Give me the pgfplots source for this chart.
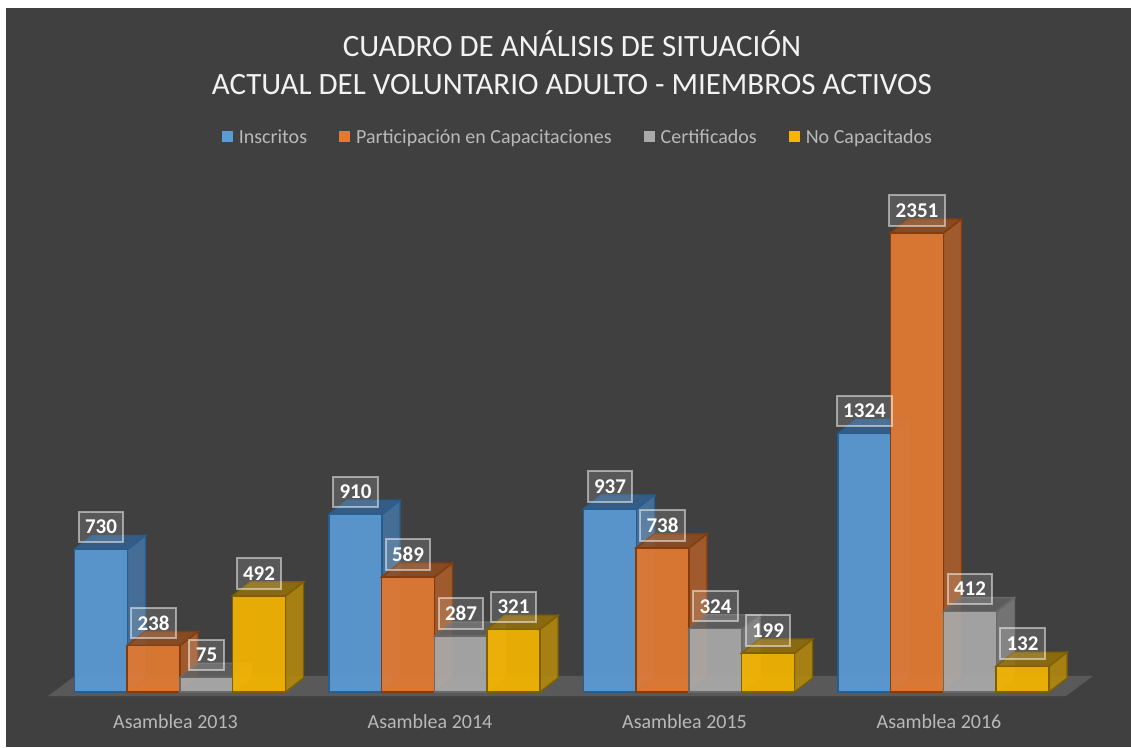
\documentclass[border=0pt]{standalone}
\usepackage{pgfplots}
\usepackage{pgfplotstable}
\usepackage{fontspec}
\setmainfont{Carlito}
\pgfplotsset{compat=1.18}

\definecolor{bgdark}{RGB}{64,64,64}
\definecolor{floorc}{RGB}{89,89,89}
\definecolor{txtgray}{RGB}{185,185,185}
\definecolor{bluef}{RGB}{91,155,213}
\definecolor{bluel}{RGB}{37,94,145}
\definecolor{blues}{RGB}{70,118,165}
\definecolor{bluet}{RGB}{50,98,145}
\definecolor{orangef}{RGB}{228,122,50}
\definecolor{orangel}{RGB}{132,60,12}
\definecolor{oranges}{RGB}{176,96,42}
\definecolor{oranget}{RGB}{146,78,32}
\definecolor{grayf}{RGB}{170,170,170}
\definecolor{grayl}{RGB}{105,105,105}
\definecolor{grays}{RGB}{125,125,125}
\definecolor{grayt}{RGB}{98,98,98}
\definecolor{yellowf}{RGB}{245,182,0}
\definecolor{yellowl}{RGB}{127,96,0}
\definecolor{yellows}{RGB}{184,140,10}
\definecolor{yellowt}{RGB}{150,114,8}

% x = group + offset, y = value
\pgfplotstableread{
x y
-0.3104 730
0.6896 910
1.6896 937
2.6896 1324
}\inscritos
\pgfplotstableread{
x y
-0.1041 238
0.8959 589
1.8959 738
2.8959 2351
}\participacion
\pgfplotstableread{
x y
0.1041 75
1.1041 287
2.1041 324
3.1041 412
}\certificados
\pgfplotstableread{
x y
0.3104 492
1.3104 321
2.3104 199
3.3104 132
}\nocapacitados

\pgfplotsset{
  % one 3d bar per data point: side, top, front (fill colours, then line colour)
  bar3d/.style n args={4}{
    only marks, forget plot, scatter, mark=*, mark size=0pt,
    mark options={draw=none,fill=none},
    visualization depends on={rawy \as \rawv},
    scatter/@pre marker code/.code={%
      \pgfmathsetmacro\barh{\rawv*0.19524}%
      \path[fill=#1,fill opacity=.85,draw=#4,line width=1.4pt]
        (26.5pt,0pt) -- (44.5pt,14pt) -- (44.5pt,14pt-\barh pt) -- (26.5pt,-\barh pt) -- cycle;
      \path[fill=#2,fill opacity=.85,draw=#4,line width=1.4pt]
        (-26.5pt,0pt) -- (-8.5pt,14pt) -- (44.5pt,14pt) -- (26.5pt,0pt) -- cycle;
      \path[fill=#3,fill opacity=.92,draw=#4,line width=1.4pt]
        (-26.5pt,0pt) rectangle (26.5pt,-\barh pt);
      \scope},
    scatter/@post marker code/.code={\endscope}
  },
  legsq/.style={
    legend image code/.code={\path[fill=##1,draw=none] (0pt,-5.5pt) rectangle (11pt,5.5pt);}
  },
  bar label/.style={
    only marks, mark=none, forget plot,
    point meta=explicit symbolic,
    nodes near coords,
    nodes near coords style={
      anchor=center, yshift=22.5pt,
      draw=white, draw opacity=.5, line width=2pt,
      fill=white, fill opacity=.13, text opacity=1, text=white,
      font=\fontsize{21}{21}\selectfont\bfseries,
      minimum height=30.5pt, inner xsep=6.5pt, inner ysep=0pt
    }
  }
}

\begin{document}
\begin{tikzpicture}
\fill[white] (0pt,0pt) rectangle (1131pt,747pt);
\fill[bgdark] (6pt,0pt) rectangle (1131pt,739pt);
\begin{axis}[
    at={(0pt,0pt)}, anchor=south west,
    x=254.5pt, y=0.19524pt,
    xmin=-0.7073, xmax=3.7367,
    ymin=-281.7, ymax=3544.4,
    axis line style={draw=none},
    tick style={draw=none},
    ytick=\empty,
    xtick={0,1,2,3},
    xticklabels={Asamblea 2013,Asamblea 2014,Asamblea 2015,Asamblea 2016},
    xticklabel style={font=\fontsize{20}{20}\selectfont, text=txtgray, yshift=36pt, xshift=-4.5pt},
    title={CUADRO DE ANÁLISIS DE SITUACIÓN\\ACTUAL DEL VOLUNTARIO ADULTO - MIEMBROS ACTIVOS},
    title style={at={(axis description cs:0.5057,0.9083)}, anchor=center, align=center,
      font=\fontsize{31}{38}\selectfont, text=white!95!black},
    clip=false,
    legend columns=4,
    legend cell align=left,
    legend style={
      at={(axis description cs:0.511,0.8166)}, anchor=center,
      draw=none, fill=none, text=txtgray,
      font=\fontsize{20}{20}\selectfont,
      /tikz/every even column/.append style={column sep=30pt},
      /tikz/every odd column/.append style={column sep=4pt}
    }
]
% floor
\addplot[fill=floorc, draw=none, forget plot] coordinates
  {(-0.5187,-20.5) (3.4813,-20.5) (3.5874,82) (-0.4126,82)} -- cycle;

\addplot[bar3d={blues}{bluet}{bluef}{bluel}] table[x=x,y=y] {\inscritos};
\addplot[bar3d={oranges}{oranget}{orangef}{orangel}] table[x=x,y=y] {\participacion};
\addplot[bar3d={grays}{grayt}{grayf}{grayl}] table[x=x,y=y] {\certificados};
\addplot[bar3d={yellows}{yellowt}{yellowf}{yellowl}] table[x=x,y=y] {\nocapacitados};

% value boxes last, so no bar covers them
\addplot[bar label] table[x=x,y=y,meta=y] {\inscritos};
\addplot[bar label] table[x=x,y=y,meta=y] {\participacion};
\addplot[bar label] table[x=x,y=y,meta=y] {\certificados};
\addplot[bar label] table[x=x,y=y,meta=y] {\nocapacitados};

\addlegendimage{legsq, bluef}
\addlegendentry{Inscritos}
\addlegendimage{legsq, orangef}
\addlegendentry{Participación en Capacitaciones}
\addlegendimage{legsq, grayf}
\addlegendentry{Certificados}
\addlegendimage{legsq, yellowf}
\addlegendentry{No Capacitados}
\end{axis}
\end{tikzpicture}
\end{document}
